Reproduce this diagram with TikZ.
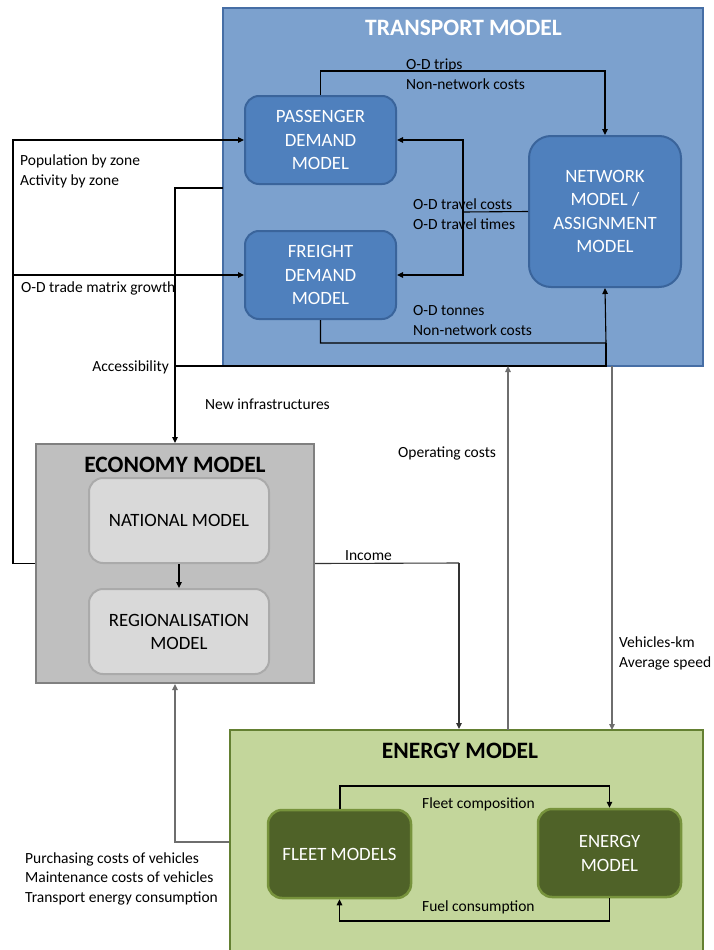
\documentclass[tikz,border=0pt]{standalone}
\usepackage{fontspec}
\setmainfont{Carlito}
\usetikzlibrary{arrows.meta}
\definecolor{trfill}{RGB}{124,161,206}
\definecolor{trdraw}{RGB}{70,110,165}
\definecolor{tinfill}{RGB}{79,128,189}
\definecolor{tindraw}{RGB}{58,100,155}
\definecolor{ecfill}{RGB}{191,191,191}
\definecolor{ecdraw}{RGB}{128,128,128}
\definecolor{einfill}{RGB}{217,217,217}
\definecolor{eindraw}{RGB}{170,170,170}
\definecolor{enfill}{RGB}{195,214,155}
\definecolor{endraw}{RGB}{100,128,50}
\definecolor{ninfill}{RGB}{79,98,40}
\definecolor{nindraw}{RGB}{119,147,60}
\definecolor{lngray}{RGB}{110,110,110}
\tikzset{
  outerbox/.style={draw, line width=2pt, inner sep=0pt},
  tinner/.style={draw=tindraw, fill=tinfill, line width=2pt, rounded corners=14pt, text=white,
    font=\fontsize{18.8}{23.5}\selectfont, align=center, inner sep=0pt},
  einner/.style={draw=eindraw, fill=einfill, line width=2pt, rounded corners=14pt, text=black,
    font=\fontsize{18.8}{23}\selectfont, align=center, inner sep=0pt},
  ninner/.style={draw=nindraw, fill=ninfill, line width=2.5pt, rounded corners=14pt, text=white,
    font=\fontsize{18.8}{24}\selectfont, align=center, inner sep=0pt},
  lbl/.style={font=\fontsize{15.5}{19.5}\selectfont, inner sep=0pt, anchor=base west, align=left},
  ttl/.style={font=\bfseries\fontsize{23.5}{26}\selectfont, inner sep=0pt, anchor=base},
  arr/.style={-{Triangle[width=5.5pt,length=6pt]}, line width=1.1pt, black},
  ln/.style={line width=1.1pt, black},
  garr/.style={-{Triangle[width=5.5pt,length=6pt]}, line width=1.3pt, lngray},
  gln/.style={line width=1.3pt, lngray}
}
\begin{document}
\begin{tikzpicture}[x=1pt,y=-1pt]
\useasboundingbox (0,0) rectangle (714,950);
\clip (0,0) rectangle (714,950);
% ---------- outer boxes ----------
\node[outerbox, draw=trdraw, fill=trfill, minimum width=480pt, minimum height=358pt] (tr) at (463,187) {};
\node[outerbox, draw=ecdraw, fill=ecfill, minimum width=278pt, minimum height=239pt] (ec) at (175,563.5) {};
\node[outerbox, draw=endraw, fill=enfill, minimum width=473pt, minimum height=240pt] (en) at (466.5,850) {};
% titles
\node[ttl, text=white] (trt) at (463.5,36) {TRANSPORT MODEL};
\node[ttl, text=black] (ect) at (175,472) {ECONOMY MODEL};
\node[ttl, text=black] (ent) at (460,758) {ENERGY MODEL};
% ---------- inner nodes ----------
\node[tinner, minimum width=151pt, minimum height=88pt] (pass) at (320.5,140) {PASSENGER\\DEMAND\\MODEL};
\node[tinner, minimum width=151pt, minimum height=88pt] (fr) at (320.5,275) {FREIGHT\\DEMAND\\MODEL};
\node[tinner, minimum width=152pt, minimum height=151pt, rounded corners=22pt] (net) at (605,211.5) {NETWORK\\MODEL /\\ASSIGNMENT\\MODEL};
\node[einner, minimum width=180pt, minimum height=85pt] (nat) at (179,520.5) {NATIONAL MODEL};
\node[einner, minimum width=180pt, minimum height=85pt] (reg) at (179,631.5) {REGIONALISATION\\MODEL};
\node[ninner, minimum width=143pt, minimum height=88pt] (fleet) at (339.5,854) {FLEET MODELS};
\node[ninner, minimum width=143pt, minimum height=88pt] (enm) at (609.5,853) {ENERGY\\MODEL};
% ---------- coordinates ----------
\coordinate (popx) at (13,140);
\coordinate (odtop) at (321,71);
\coordinate (odbot) at (606,343);
\coordinate (tcx) at (463,212);
\coordinate (accL) at (223,188);
\coordinate (accB) at (606,366);
\coordinate (accC) at (175,366);
\coordinate (incx) at (459,563);
\coordinate (purx) at (175,842);
\coordinate (fctop) at (340,786);
\coordinate (fcbot) at (609,921);
\coordinate (opB) at (508,730);
\coordinate (opT) at (508,366);
\coordinate (vkT) at (612,366);
\coordinate (vkB) at (612,730);
% ---------- transport internal ----------
\draw[arr] (pass.north) |- (odtop) -| (net.north);
\draw[ln] (net.west) -- (tcx);
\draw[arr] (tcx) |- (pass.east);
\draw[arr] (tcx) |- (fr.east);
\draw[arr] (fr.south) |- (odbot) -- (net.south);
% ---------- economy -> transport ----------
\draw[arr] (ec.west) -| (popx) -- (pass.west);
\draw[arr] (popx |- fr.west) -- (fr.west);
% ---------- transport -> economy ----------
\draw[ln] (odbot) -- (accB) -- (accC);
\draw[arr] (accL) -| (ec.north);
% national -> regional
\draw[arr] (nat.south) -- (reg.north);
% ---------- economy -> energy ----------
\draw[ln, draw=black!80] (ec.east) -- (incx);
\draw[arr, draw=black!80] (incx) -- (incx |- en.north);
% ---------- energy <-> transport ----------
\draw[garr] (opB) -- (opT);
\draw[garr] (vkT) -- (vkB);
% ---------- energy -> economy ----------
\draw[garr] (en.west |- purx) -- (purx) -- (ec.south);
% ---------- energy internal ----------
\draw[arr] (fleet.north -| fctop) |- (fctop -| enm.north) -- (enm.north);
\draw[arr] (enm.south) |- (fcbot -| fleet.south) -- (fleet.south);
% ---------- labels (anchor = baseline of last line) ----------
\node[lbl] (l1) at (20,185) {Population by zone\\Activity by zone};
\node[lbl] (l2) at (21,292) {O-D trade matrix growth};
\node[lbl, anchor=base east] (l3) at (169,371) {Accessibility};
\node[lbl] (l4) at (205,409) {New infrastructures};
\node[lbl] (l5) at (406,89) {O-D trips\\Non-network costs};
\node[lbl] (l6) at (413,229) {O-D travel costs\\O-D travel times};
\node[lbl] (l7) at (413,335) {O-D tonnes\\Non-network costs};
\node[lbl] (l8) at (398,457) {Operating costs};
\node[lbl] (l9) at (345,560) {Income};
\node[lbl] (l10) at (619,667) {Vehicles-km\\Average speed};
\node[lbl] (l11) at (25,902) {Purchasing costs of vehicles\\Maintenance costs of vehicles\\Transport energy consumption};
\node[lbl] (l12) at (422,808) {Fleet composition};
\node[lbl] (l13) at (422,911) {Fuel consumption};
\end{tikzpicture}
\end{document}
